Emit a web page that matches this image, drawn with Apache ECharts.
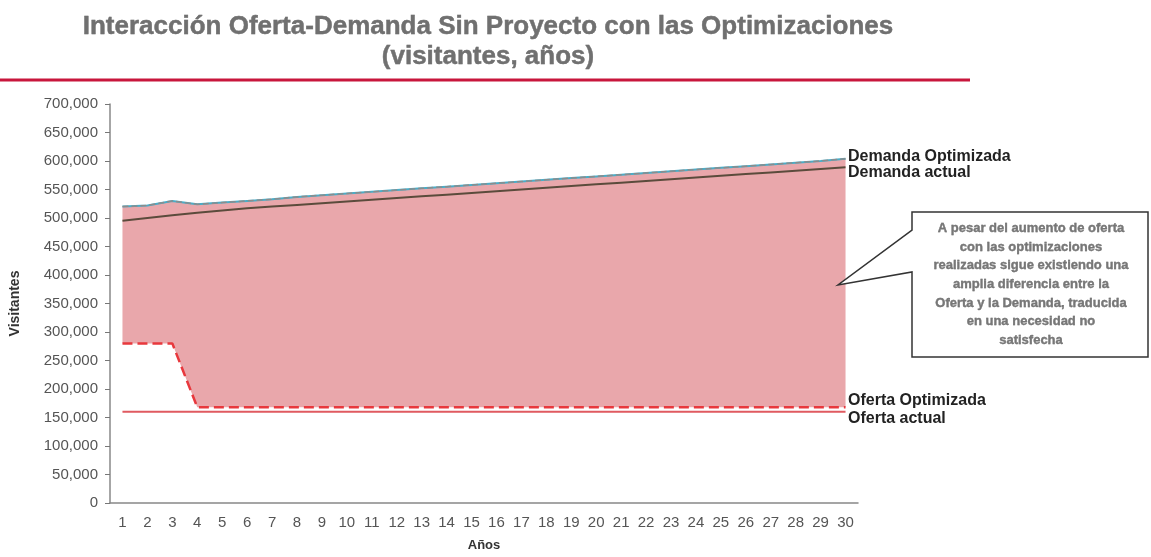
<!DOCTYPE html>
<html>
<head>
<meta charset="utf-8">
<script src="https://cdn.jsdelivr.net/npm/echarts@6/dist/echarts.min.js"></script>
<style>
  html, body { margin: 0; padding: 0; background: #fff; }
  #chart { width: 1151px; height: 557px; }
</style>
</head>
<body>
<div id="chart"></div>
<script>
const years = []
for (let i = 1; i <= 30; i++) years.push(String(i))

// visitantes (miles, pasados a unidades)
const demandaOptimizada = [520, 522, 530, 524, 527, 530, 533, 537, 540, 543, 546, 549, 552, 555, 558,
  561, 564, 567, 570, 573, 576, 579, 582, 585, 588, 591, 594, 597, 600, 604].map(v => v * 1000)
const demandaActual = [495, 500, 505, 509, 513, 517, 520, 523, 526, 529, 532, 535, 538, 541, 544,
  547, 550, 553, 556, 559, 562, 565, 568, 571, 574, 577, 580, 583, 586, 589].map(v => v * 1000)
const ofertaOptimizada = [280, 280, 280, 168, 168, 168, 168, 168, 168, 168, 168, 168, 168, 168, 168,
  168, 168, 168, 168, 168, 168, 168, 168, 168, 168, 168, 168, 168, 168, 168].map(v => v * 1000)
const ofertaActual = [160, 160, 160, 160, 160, 160, 160, 160, 160, 160, 160, 160, 160, 160, 160,
  160, 160, 160, 160, 160, 160, 160, 160, 160, 160, 160, 160, 160, 160, 160].map(v => v * 1000)

const brecha = demandaOptimizada.map((v, i) => v - ofertaOptimizada[i])

const calloutLines = [
  'A pesar del aumento de oferta',
  'con las optimizaciones',
  'realizadas sigue existiendo una',
  'amplia diferencia entre la',
  'Oferta y la Demanda, traducida',
  'en una necesidad no',
  'satisfecha'
]

const chart = echarts.init(document.getElementById('chart'))

const font = 'Liberation Sans, Arial, sans-serif'

chart.setOption({
  backgroundColor: '#fff',
  animation: false,
  grid: {
    left: 107,
    right: 293,
    top: 104,
    bottom: 50
  },
  xAxis: {
    type: 'category',
    data: years,
    boundaryGap: true,
    name: 'Años',
    nameLocation: 'middle',
    nameGap: 36,
    nameTextStyle: { fontFamily: font, fontWeight: 'bold', fontSize: 13, color: '#333' },
    axisLine: { lineStyle: { color: '#888', width: 1.5 } },
    axisTick: { lineStyle: { color: '#777' } },
    axisLabel: { interval: 0, fontFamily: font, fontSize: 15, color: '#555', margin: 12 }
  },
  yAxis: {
    type: 'value',
    min: 0,
    max: 700000,
    interval: 50000,
    name: 'Visitantes',
    nameLocation: 'middle',
    nameGap: 88,
    nameTextStyle: { fontFamily: font, fontWeight: 'bold', fontSize: 14, color: '#333' },
    splitLine: { show: false },
    axisLine: { show: true, lineStyle: { color: '#888', width: 1.5 } },
    axisTick: { show: true, lineStyle: { color: '#777' } },
    axisLabel: {
      fontFamily: font,
      fontSize: 15,
      color: '#555',
      margin: 12,
      formatter: v => v.toLocaleString('en-US')
    }
  },
  series: [
    {
      name: 'base',
      type: 'line',
      stack: 'gap',
      data: ofertaOptimizada,
      symbol: 'none',
      lineStyle: { opacity: 0 },
      silent: true,
      z: 1
    },
    {
      name: 'Necesidad no satisfecha',
      type: 'line',
      stack: 'gap',
      data: brecha,
      symbol: 'none',
      lineStyle: { opacity: 0 },
      areaStyle: { color: '#e9a7ab', opacity: 1 },
      silent: true,
      z: 1
    },
    {
      name: 'Demanda actual',
      type: 'line',
      data: demandaActual,
      symbol: 'none',
      lineStyle: { color: '#5b4b3c', width: 2 },
      z: 5
    },
    {
      name: 'Demanda Optimizada',
      type: 'line',
      data: demandaOptimizada,
      symbol: 'none',
      lineStyle: { color: '#4bacc6', width: 2 },
      z: 5
    },
    {
      name: 'Demanda Optimizada (trazo)',
      type: 'line',
      data: demandaOptimizada,
      symbol: 'none',
      lineStyle: { color: '#8c8c8c', width: 1.5, type: 'dashed' },
      z: 6
    },
    {
      name: 'Oferta actual',
      type: 'line',
      data: ofertaActual,
      symbol: 'none',
      lineStyle: { color: '#e05a60', width: 2 },
      z: 5
    },
    {
      name: 'Oferta Optimizada',
      type: 'line',
      data: ofertaOptimizada,
      symbol: 'none',
      lineStyle: { color: '#e8383d', width: 2.5, type: 'dashed' },
      z: 6
    }
  ],
  graphic: [
    // titulo
    {
      type: 'text',
      x: 488,
      y: 14,
      style: {
        text: 'Interacción Oferta-Demanda Sin Proyecto con las Optimizaciones',
        textAlign: 'center',
        fontFamily: font,
        fontWeight: 'bold',
        fontSize: 26,
        fill: '#707070',
        stroke: '#555',
        lineWidth: 0.4
      }
    },
    {
      type: 'text',
      x: 488,
      y: 44,
      style: {
        text: '(visitantes, años)',
        textAlign: 'center',
        fontFamily: font,
        fontWeight: 'bold',
        fontSize: 26,
        fill: '#707070',
        stroke: '#555',
        lineWidth: 0.4
      }
    },
    {
      type: 'line',
      shape: { x1: 0, y1: 80, x2: 970, y2: 80 },
      style: { stroke: '#c8163c', lineWidth: 3 }
    },
    // texto central
    {
      type: 'text',
      x: 545,
      y: 261,
      style: {
        text: 'Necesidad no\nsatisfecha\n(Mercado captable)',
        textAlign: 'center',
        fontFamily: font,
        fontSize: 15,
        lineHeight: 27,
        fill: '#333'
      }
    },
    // etiquetas de series
    {
      type: 'text', x: 848, y: 149,
      style: { text: 'Demanda Optimizada', fontFamily: font, fontWeight: 'bold', fontSize: 16, fill: '#222' }
    },
    {
      type: 'text', x: 848, y: 165,
      style: { text: 'Demanda actual', fontFamily: font, fontWeight: 'bold', fontSize: 16, fill: '#222' }
    },
    {
      type: 'text', x: 848, y: 393,
      style: { text: 'Oferta Optimizada', fontFamily: font, fontWeight: 'bold', fontSize: 16, fill: '#222' }
    },
    {
      type: 'text', x: 848, y: 411,
      style: { text: 'Oferta actual', fontFamily: font, fontWeight: 'bold', fontSize: 16, fill: '#222' }
    },
    // recuadro explicativo
    {
      type: 'polygon',
      shape: {
        points: [[912, 212], [1148, 212], [1148, 357], [912, 357], [912, 272], [838, 285], [912, 230]]
      },
      style: { fill: '#fff', stroke: '#333', lineWidth: 1.5 },
      z: 10
    },
    {
      type: 'text',
      x: 1031,
      y: 219,
      z: 11,
      style: {
        text: calloutLines.join('\n'),
        textAlign: 'center',
        fontFamily: font,
        fontWeight: 'bold',
        fontSize: 13,
        lineHeight: 18.7,
        fill: '#777',
        stroke: '#444',
        lineWidth: 0.3
      }
    }
  ]
})
</script>
</body>
</html>
